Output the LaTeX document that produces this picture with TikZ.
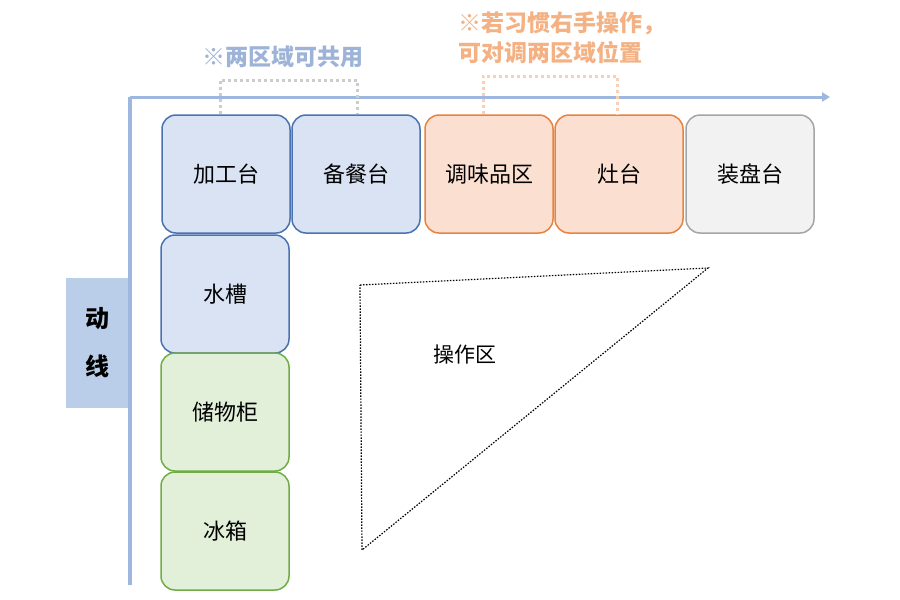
\documentclass[tikz,border=0pt]{standalone}
\usepackage{fontspec}
\newfontfamily\cjk{Noto Sans CJK SC}
\usetikzlibrary{arrows.meta}
\definecolor{bfill}{HTML}{DAE3F3}\definecolor{bdraw}{HTML}{4A72B0}
\definecolor{ofill}{HTML}{FBE0D2}\definecolor{odraw}{HTML}{E7833F}
\definecolor{gfill}{HTML}{E2EFD9}\definecolor{gdraw}{HTML}{70AD47}
\definecolor{wfill}{HTML}{F2F2F2}\definecolor{wdraw}{HTML}{A5A5A5}
\definecolor{axis}{HTML}{9DB7E0}\definecolor{otxt}{HTML}{F4B183}\definecolor{btxt}{HTML}{9DB3D8}
\tikzset{
 zone/.style={rounded corners=14pt,line width=1.5pt,minimum width=128pt,minimum height=118pt,inner sep=0pt,font=\cjk\fontsize{22}{22}\selectfont},
 bz/.style={zone,fill=bfill,draw=bdraw},
 oz/.style={zone,fill=ofill,draw=odraw},
 gz/.style={zone,fill=gfill,draw=gdraw},
 wz/.style={zone,fill=wfill,draw=wdraw},
 dots/.style={line width=3pt,dash pattern=on 3pt off 3pt},
}
\begin{document}
\begin{tikzpicture}[x=1pt,y=-1pt]
\useasboundingbox (0,0) rectangle (900,600);
\node[bz] (a) at (226,174) {加工台};
\node[bz] (b) at (356,174) {备餐台};
\node[oz] (c) at (489,174) {调味品区};
\node[oz] (d) at (619,174) {灶台};
\node[wz] (e) at (750,174) {装盘台};
\node[bz] (f) at (225,294) {水槽};
\node[gz] (g) at (225,412) {储物柜};
\node[gz] (h) at (225,531) {冰箱};
\coordinate (o) at (130,97);
\coordinate (ax) at (830,97);
\coordinate (ay) at (130,585);
\draw[axis,line width=3pt,-{Triangle[length=8pt,width=9pt]}] (o) -- (ax);
\draw[axis,line width=4pt] (o) -- (ay);
\node[fill=axis!70,minimum width=62pt,minimum height=130pt,inner sep=0pt,align=center,font=\cjk\bfseries\fontsize{24}{48}\selectfont] (dx) at (97,343) {动\\线};
\coordinate (t1) at (360,285); \coordinate (t2) at (708,268); \coordinate (t3) at (362,550);
\draw[line width=1.2pt,dash pattern=on 1.5pt off 1.5pt] (t1) -- (t2) -- (t3) -- cycle;
\node[font=\cjk\fontsize{21}{21}\selectfont] (op) at (465,355) {操作区};
\draw[dots,black!20] (a.north -| 220,0) |- (357,80) -- (b.north -| 357,0);
\draw[dots,otxt!60] (c.north -| 483,0) |- (617,76) -- (d.north -| 617,0);
\node[font=\cjk\bfseries\fontsize{23}{23}\selectfont,text=btxt] (n1) at (283,57) {※两区域可共用};
\node[font=\cjk\bfseries\fontsize{23}{30}\selectfont,text=otxt,align=left] (n2) at (562,38) {※若习惯右手操作，\\可对调两区域位置};
\end{tikzpicture}
\end{document}
